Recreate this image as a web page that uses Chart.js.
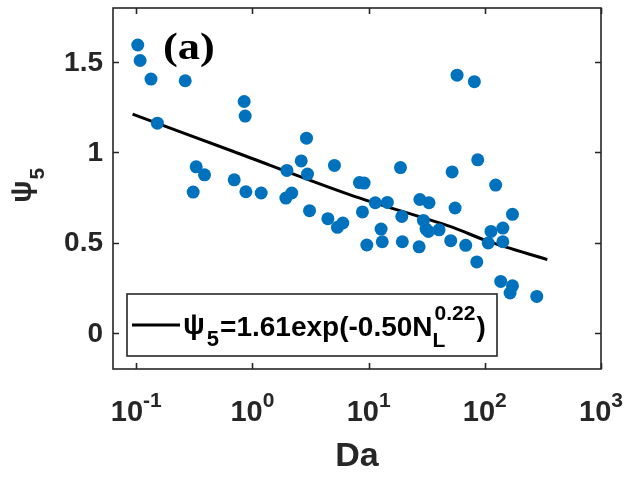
<!DOCTYPE html>
<html>
<head>
<meta charset="utf-8">
<script src="https://cdn.jsdelivr.net/npm/chart.js"></script>
<style>
  body { margin: 0; background: #fff; }
  #wrap { width: 630px; height: 479px; position: relative; }
</style>
</head>
<body>
<div id="wrap"><canvas id="myChart1"></canvas></div>
<script>
// scatter data
const daValues = [0.103, 0.108, 0.134, 0.264, 0.152, 0.849, 0.866, 0.328, 0.387, 0.309,
  0.697, 0.878, 1.19, 1.98, 1.94, 2.18, 2.92, 2.63, 2.98, 3.10,
  5.08, 4.46, 6.0, 5.39, 8.34, 9.15, 8.85, 9.65, 57.7, 81.3,
  86.9, 18.8, 52.3, 124, 11.4, 14.5, 27.6, 33.1, 55.5, 173,
  19.3, 12.8, 13.1, 19.5, 27.2, 29.6, 31.2, 32.7, 40.4, 50.9,
  68.5, 85.3, 107, 113, 143, 143, 137, 173, 165, 280];
const psiValues = [1.595, 1.509, 1.406, 1.397, 1.162, 1.282, 1.201, 0.920, 0.876, 0.780,
  0.848, 0.782, 0.775, 0.900, 0.747, 0.775, 1.079, 0.953, 0.880, 0.677,
  0.928, 0.633, 0.609, 0.585, 0.833, 0.830, 0.670, 0.487, 1.428, 1.392,
  0.959, 0.916, 0.892, 0.819, 0.721, 0.723, 0.739, 0.721, 0.692, 0.657,
  0.645, 0.575, 0.505, 0.505, 0.477, 0.623, 0.575, 0.562, 0.571, 0.511,
  0.485, 0.393, 0.498, 0.562, 0.581, 0.505, 0.285, 0.261, 0.221, 0.202];

// fitted curve
const fitDa = [0.093, 0.687, 6.93, 50.2, 107, 345];
const fitPsi = [1.212, 1.005, 0.765, 0.590, 0.507, 0.406];

const xTickValues = [0.1, 1, 10, 100, 1000];
const xTickExponents = ['-1', '0', '1', '2', '3'];
const yTickValues = [0, 0.5, 1, 1.5];
const yTickLabels = ['0', '0.5', '1', '1.5'];

const axisColor = '#262626';
const sans = '"Liberation Sans", Arial, sans-serif';

const pts = daValues.map((d, i) => ({ x: d, y: psiValues[i] }));
const fitPts = fitDa.map((d, i) => ({ x: d, y: fitPsi[i] }));

// draws the matlab style box, ticks, labels and legend
const decorPlugin = {
  id: 'decor',
  afterDraw(chart) {
    const ctx = chart.ctx;
    const a = chart.chartArea;
    const xs = chart.scales.x, ys = chart.scales.y;
    ctx.save();

    // box
    ctx.strokeStyle = axisColor;
    ctx.lineWidth = 1.6;
    ctx.strokeRect(a.left, a.top, a.right - a.left, a.bottom - a.top);

    // ticks inward, all four sides
    const tl = 6;
    ctx.beginPath();
    xTickValues.forEach(v => {
      const px = Math.round(xs.getPixelForValue(v)) + 0.5;
      ctx.moveTo(px, a.bottom); ctx.lineTo(px, a.bottom - tl);
      ctx.moveTo(px, a.top); ctx.lineTo(px, a.top + tl);
    });
    yTickValues.forEach(v => {
      const py = Math.round(ys.getPixelForValue(v)) + 0.5;
      ctx.moveTo(a.left, py); ctx.lineTo(a.left + tl, py);
      ctx.moveTo(a.right, py); ctx.lineTo(a.right - tl, py);
    });
    ctx.stroke();

    ctx.fillStyle = axisColor;

    // y tick labels
    ctx.font = 'bold 28px ' + sans;
    ctx.textAlign = 'right';
    ctx.textBaseline = 'middle';
    yTickValues.forEach((v, i) => {
      ctx.fillText(yTickLabels[i], a.left - 10, ys.getPixelForValue(v) + 1);
    });

    // x tick labels 10^n
    ctx.textBaseline = 'alphabetic';
    ctx.textAlign = 'left';
    xTickValues.forEach((v, i) => {
      const px = xs.getPixelForValue(v);
      ctx.font = 'bold 29px ' + sans;
      const wb = ctx.measureText('10').width;
      ctx.font = 'bold 21px ' + sans;
      const we = ctx.measureText(xTickExponents[i]).width;
      const x0 = px - (wb + we) / 2;
      ctx.font = 'bold 29px ' + sans;
      ctx.fillText('10', x0, 421);
      ctx.font = 'bold 21px ' + sans;
      ctx.fillText(xTickExponents[i], x0 + wb, 407);
    });

    // x title
    ctx.font = 'bold 34px ' + sans;
    ctx.textAlign = 'center';
    ctx.fillText('Da', (a.left + a.right) / 2, 466);
    ctx.textAlign = 'left';

    // y title (rotated psi_5)
    ctx.save();
    ctx.translate(31, 203);
    ctx.rotate(-Math.PI / 2);
    ctx.font = 'bold 30px ' + sans;
    ctx.fillText('\u03c8', 0, 0);
    const wpsi = ctx.measureText('\u03c8').width;
    ctx.font = 'bold 21px ' + sans;
    ctx.fillText('5', wpsi + 1, 13);
    ctx.restore();

    // (a) label, a bit wider like the original
    ctx.save();
    ctx.fillStyle = '#000';
    ctx.font = 'bold 38px "Liberation Serif", "Times New Roman", serif';
    ctx.translate(163, 59);
    ctx.scale(1.17, 1);
    ctx.fillText('(a)', 0, 0);
    ctx.restore();

    // legend box
    const lx = 127, ly = 294, lw = 370, lh = 62;
    ctx.fillStyle = '#fff';
    ctx.fillRect(lx, ly, lw, lh);
    ctx.strokeStyle = axisColor;
    ctx.lineWidth = 1.6;
    ctx.strokeRect(lx, ly, lw, lh);
    ctx.strokeStyle = '#000';
    ctx.lineWidth = 3;
    ctx.beginPath();
    ctx.moveTo(132, 325); ctx.lineTo(180, 325);
    ctx.stroke();

    ctx.fillStyle = '#000';
    let tx = 183;
    const base = 336;
    ctx.font = 'bold 29px ' + sans;
    ctx.fillText('\u03c8', tx, base - 2);
    tx += ctx.measureText('\u03c8').width;
    ctx.font = 'bold 22px ' + sans;
    ctx.fillText('5', tx + 2, base + 10);
    tx += ctx.measureText('5').width + 3;
    ctx.font = 'bold 28px ' + sans;
    const main = '=1.61exp(-0.50N';
    ctx.fillText(main, tx, base);
    tx += ctx.measureText(main).width;
    ctx.font = 'bold 21px ' + sans;
    ctx.fillText('L', tx, base + 11);
    ctx.fillText('0.22', tx + 2, base - 16);
    tx += ctx.measureText('0.22').width + 3;
    ctx.font = 'bold 28px ' + sans;
    ctx.fillText(')', tx, base);

    ctx.restore();
  }
};

const config1 = {
  type: 'scatter',
  data: {
    datasets: [
      {
        data: pts,
        backgroundColor: '#0072BD',
        borderColor: '#0072BD',
        pointRadius: 6.5,
        pointHoverRadius: 6.5,
        borderWidth: 0
      },
      {
        type: 'line',
        data: fitPts,
        borderColor: '#000',
        borderWidth: 3,
        pointRadius: 0,
        fill: false,
        tension: 0.3
      }
    ]
  },
  options: {
    responsive: true,
    maintainAspectRatio: false,
    animation: false,
    events: [],
    layout: { padding: { left: 0, top: 8, right: 29, bottom: 0 } },
    plugins: { legend: { display: false }, tooltip: { enabled: false } },
    scales: {
      x: {
        type: 'logarithmic',
        min: Math.pow(10, -1.2),
        max: 1000,
        grid: { display: false },
        border: { display: false },
        ticks: { display: false },
        afterFit: s => { s.height = 110; }
      },
      y: {
        min: -0.2,
        max: 1.8,
        grid: { display: false },
        border: { display: false },
        ticks: { display: false },
        afterFit: s => { s.width = 113; }
      }
    }
  },
  plugins: [decorPlugin]
};

var ctx1 = document.getElementById('myChart1').getContext('2d');
const chart1 = new Chart(ctx1, config1);
</script>
</body>
</html>
